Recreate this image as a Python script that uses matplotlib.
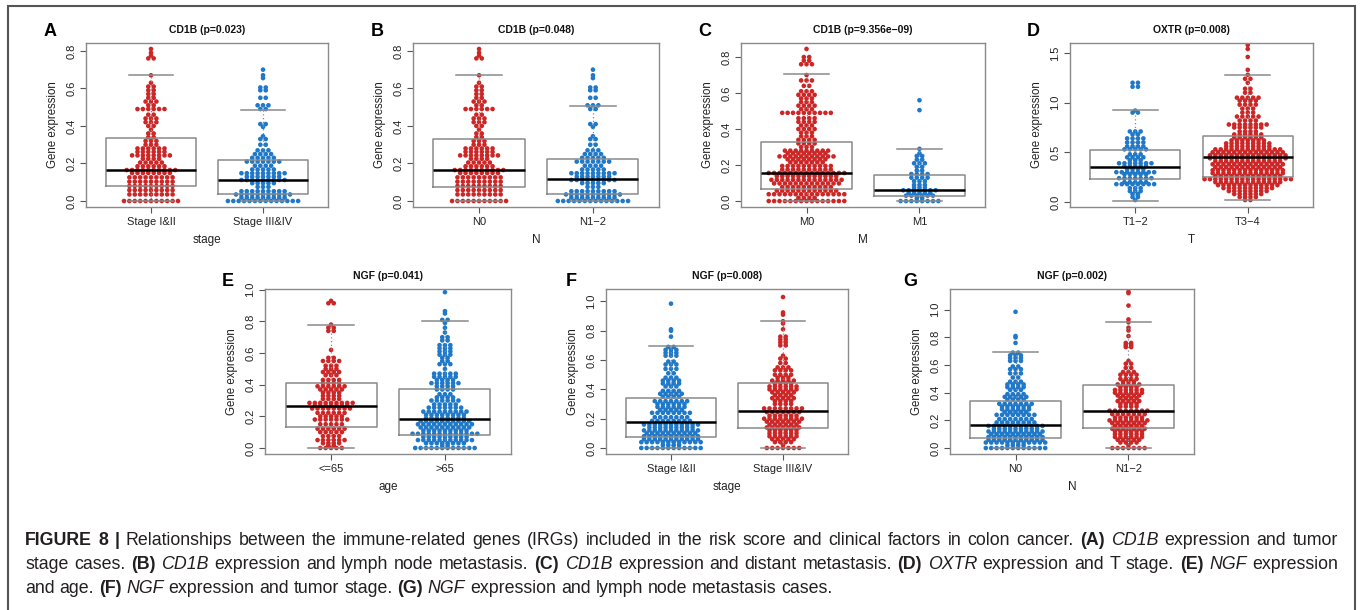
import numpy as np
import matplotlib
matplotlib.use("Agg")
import matplotlib.pyplot as plt
from matplotlib.patches import Rectangle

plt.rcParams['font.family'] = ['Liberation Sans', 'DejaVu Sans']

W, H = 1360, 610
RED = '#CD2626'
BLUE = '#1F78C8'
GRAY = '#8a8a8a'

# ---------------- data (rows of the beeswarm: level, number of points) -------------
A1_LEVELS = [0.000, 0.035, 0.058, 0.080, 0.103, 0.126, 0.149, 0.165, 0.185, 0.205, 0.225, 0.243, 0.262,
             0.280, 0.300, 0.320, 0.340, 0.360, 0.380, 0.400, 0.420, 0.440, 0.460, 0.490, 0.510, 0.530,
             0.550, 0.570, 0.590, 0.610, 0.630, 0.670, 0.760, 0.775, 0.790, 0.810]
A1_COUNTS = [11, 9, 9, 9, 9, 9, 8, 10, 6, 5, 4, 8, 6, 6, 3, 3, 2, 2, 1, 2, 3, 3, 2, 6, 2, 3, 2, 2, 2, 2,
             1, 1, 2, 1, 1, 1]
A2_LEVELS = [0.000, 0.018, 0.035, 0.052, 0.075, 0.095, 0.112, 0.130, 0.148, 0.168, 0.188, 0.210, 0.230,
             0.250, 0.270, 0.300, 0.330, 0.345, 0.395, 0.410, 0.490, 0.510, 0.550, 0.590, 0.605, 0.655,
             0.670, 0.700]
A2_COUNTS = [14, 9, 11, 9, 3, 5, 9, 7, 9, 5, 4, 7, 5, 4, 3, 2, 2, 1, 1, 2, 2, 3, 2, 2, 2, 1, 1, 1]
B1_LEVELS, B1_COUNTS = A1_LEVELS, A1_COUNTS
B2_LEVELS, B2_COUNTS = A2_LEVELS, A2_COUNTS

C1_LEVELS = [0.000, 0.018, 0.038, 0.058, 0.078, 0.098, 0.118, 0.138, 0.156, 0.175, 0.195, 0.215, 0.232,
             0.248, 0.265, 0.280, 0.300, 0.320, 0.340, 0.360, 0.380, 0.400, 0.420, 0.440, 0.460, 0.490,
             0.510, 0.530, 0.550, 0.570, 0.590, 0.610, 0.640, 0.670, 0.700, 0.760, 0.780, 0.800, 0.845]
C1_COUNTS = [15, 4, 15, 12, 10, 13, 14, 12, 15, 10, 10, 7, 8, 11, 8, 9, 3, 4, 4, 3, 3, 4, 3, 4, 4, 10,
             3, 4, 3, 3, 4, 3, 2, 3, 1, 3, 2, 2, 1]
C2_LEVELS = [0.000, 0.015, 0.030, 0.045, 0.060, 0.075, 0.090, 0.110, 0.130, 0.150, 0.170, 0.190, 0.210,
             0.230, 0.250, 0.265, 0.290, 0.505, 0.560]
C2_COUNTS = [8, 2, 6, 5, 7, 3, 3, 3, 4, 4, 2, 2, 3, 2, 2, 1, 1, 1, 1]

D1_LEVELS = [0.02, 0.05, 0.08, 0.11, 0.14, 0.18, 0.20, 0.24, 0.28, 0.30, 0.33, 0.36, 0.39, 0.42, 0.45,
             0.48, 0.53, 0.56, 0.60, 0.64, 0.68, 0.71, 0.90, 0.92, 1.16, 1.20]
D1_COUNTS = [1, 2, 2, 3, 3, 8, 5, 7, 5, 8, 4, 5, 7, 3, 4, 3, 5, 4, 4, 4, 2, 3, 2, 1, 2, 2]
D2_LEVELS = [0.02, 0.05, 0.08, 0.11, 0.14, 0.17, 0.20, 0.23, 0.26, 0.29, 0.32, 0.35, 0.38, 0.41, 0.44,
             0.47, 0.50, 0.53, 0.56, 0.59, 0.62, 0.65, 0.68, 0.71, 0.75, 0.78, 0.82, 0.86, 0.90, 0.94,
             0.98, 1.02, 1.05, 1.10, 1.14, 1.20, 1.24, 1.28, 1.33, 1.46, 1.54, 1.58]
D2_COUNTS = [2, 4, 6, 8, 10, 12, 13, 17, 13, 14, 14, 13, 14, 13, 15, 15, 14, 13, 9, 9, 7, 6, 6, 4, 6, 8,
             4, 5, 3, 3, 4, 4, 5, 2, 2, 1, 2, 1, 1, 1, 1, 1]

E1_LEVELS = [0.000, 0.015, 0.030, 0.050, 0.075, 0.100, 0.122, 0.150, 0.180, 0.200, 0.222, 0.250, 0.268,
             0.285, 0.310, 0.330, 0.350, 0.370, 0.390, 0.410, 0.430, 0.460, 0.480, 0.500, 0.520, 0.550,
             0.570, 0.620, 0.740, 0.760, 0.780, 0.915, 0.930]
E1_COUNTS = [5, 2, 4, 6, 4, 5, 6, 5, 7, 5, 6, 8, 7, 9, 4, 4, 4, 5, 6, 4, 4, 3, 4, 3, 3, 4, 2, 1, 2, 2,
             1, 2, 1]
E2_LEVELS = [0.000, 0.015, 0.030, 0.050, 0.070, 0.090, 0.110, 0.130, 0.150, 0.170, 0.190, 0.210, 0.230,
             0.255, 0.275, 0.300, 0.320, 0.340, 0.370, 0.390, 0.410, 0.430, 0.450, 0.470, 0.500, 0.530,
             0.550, 0.570, 0.590, 0.610, 0.630, 0.650, 0.680, 0.700, 0.730, 0.760, 0.790, 0.810, 0.850,
             0.865, 0.985]
E2_COUNTS = [12, 2, 8, 11, 9, 13, 9, 10, 11, 10, 8, 8, 9, 7, 5, 6, 4, 3, 4, 4, 6, 4, 5, 5, 1, 3, 2, 2,
             3, 3, 3, 3, 2, 2, 1, 1, 1, 2, 1, 1, 1]

F1_LEVELS = [0.000, 0.020, 0.040, 0.060, 0.080, 0.100, 0.120, 0.140, 0.160, 0.185, 0.210, 0.240, 0.260,
             0.280, 0.300, 0.320, 0.350, 0.370, 0.390, 0.420, 0.440, 0.460, 0.480, 0.510, 0.540, 0.570,
             0.590, 0.630, 0.650, 0.670, 0.690, 0.760, 0.800, 0.810, 0.985]
F1_COUNTS = [12, 4, 12, 11, 11, 10, 11, 9, 11, 8, 7, 8, 5, 6, 6, 7, 4, 5, 4, 3, 4, 4, 3, 2, 3, 3, 2, 3,
             3, 3, 2, 1, 1, 1, 1]
F2_LEVELS = [0.000, 0.020, 0.040, 0.060, 0.080, 0.100, 0.120, 0.140, 0.160, 0.180, 0.200, 0.220, 0.245,
             0.270, 0.300, 0.320, 0.340, 0.360, 0.380, 0.400, 0.420, 0.440, 0.460, 0.480, 0.500, 0.530,
             0.550, 0.580, 0.610, 0.630, 0.700, 0.720, 0.740, 0.760, 0.810, 0.850, 0.865, 0.910, 0.925,
             1.030]
F2_COUNTS = [7, 1, 4, 5, 6, 6, 6, 7, 6, 7, 8, 6, 7, 8, 4, 4, 5, 4, 5, 6, 6, 4, 5, 3, 4, 4, 3, 2, 2, 1,
             2, 2, 2, 2, 1, 1, 1, 1, 1, 1]
G1_LEVELS, G1_COUNTS = F1_LEVELS, F1_COUNTS
G2_LEVELS = [0.000, 0.020, 0.040, 0.060, 0.080, 0.100, 0.120, 0.140, 0.160, 0.180, 0.200, 0.220, 0.245,
             0.270, 0.300, 0.320, 0.340, 0.360, 0.380, 0.400, 0.420, 0.440, 0.460, 0.480, 0.500, 0.530,
             0.550, 0.580, 0.610, 0.630, 0.730, 0.745, 0.760, 0.810, 0.850, 0.870, 0.910, 0.930, 1.030,
             1.120, 1.130]
G2_COUNTS = [7, 1, 4, 5, 6, 6, 6, 7, 6, 7, 8, 6, 7, 8, 4, 4, 5, 4, 5, 6, 6, 4, 5, 3, 4, 4, 3, 2, 2, 1,
             2, 2, 2, 1, 1, 1, 1, 1, 1, 1, 1]

# box statistics: (whisker low, q1, median, q3, whisker high)
A_BOX = [(0.0, 0.080, 0.165, 0.336, 0.672), (0.0, 0.035, 0.112, 0.221, 0.483)]
B_BOX = [(0.0, 0.073, 0.165, 0.333, 0.672), (0.0, 0.039, 0.115, 0.225, 0.504)]
C_BOX = [(0.0, 0.065, 0.156, 0.330, 0.707), (0.0, 0.030, 0.059, 0.145, 0.291)]
D_BOX = [(0.010, 0.229, 0.353, 0.528, 0.921), (0.020, 0.256, 0.451, 0.669, 1.281)]
E_BOX = [(0.0, 0.133, 0.264, 0.412, 0.780), (0.0, 0.085, 0.182, 0.374, 0.801)]
F_BOX = [(0.0, 0.075, 0.176, 0.342, 0.694), (0.0, 0.137, 0.253, 0.441, 0.865)]
G_BOX = [(0.0, 0.072, 0.166, 0.337, 0.695), (0.0, 0.144, 0.267, 0.454, 0.911)]

TITLES = ["CD1B (p=0.023)", "CD1B (p=0.048)", "CD1B (p=9.356e\u221209)", "OXTR (p=0.008)",
          "NGF (p=0.041)", "NGF (p=0.008)", "NGF (p=0.002)"]
XLABELS = ["stage", "N", "M", "T", "age", "stage", "N"]
CATS = [["Stage I&II", "Stage III&IV"], ["N0", "N1\u22122"], ["M0", "M1"], ["T1\u22122", "T3\u22124"],
        ["<=65", ">65"], ["Stage I&II", "Stage III&IV"], ["N0", "N1\u22122"]]
LETTERS = ["A", "B", "C", "D", "E", "F", "G"]

# ---------------- layout (pixels) ----------------
BOXES = [(86, 328, 43, 207), (413, 659, 43, 207), (741, 985, 43, 207), (1070, 1313, 43, 207),
         (265, 511, 289, 454), (606, 848, 289, 454), (950, 1194, 289, 454)]
LETTER_POS = [(50, 32), (377, 32), (705, 32), (1033, 32), (228, 281), (571, 281), (910, 281)]
YLIMS = [(-0.032, 0.842), (-0.032, 0.842), (-0.033, 0.878), (-0.05, 1.60), (-0.038, 1.005),
         (-0.041, 1.085), (-0.043, 1.15)]
YTICKS = [[0, .2, .4, .6, .8]] * 3 + [[0, .5, 1.0, 1.5]] + [[0, .2, .4, .6, .8, 1.0]] * 3
YTICKLABELS = [["0.0", "0.2", "0.4", "0.6", "0.8"]] * 3 + [["0.0", "0.5", "1.0", "1.5"]] + \
              [["0.0", "0.2", "0.4", "0.6", "0.8", "1.0"]] * 3
GROUPS = [[(A1_LEVELS, A1_COUNTS), (A2_LEVELS, A2_COUNTS)],
          [(B1_LEVELS, B1_COUNTS), (B2_LEVELS, B2_COUNTS)],
          [(C1_LEVELS, C1_COUNTS), (C2_LEVELS, C2_COUNTS)],
          [(D1_LEVELS, D1_COUNTS), (D2_LEVELS, D2_COUNTS)],
          [(E1_LEVELS, E1_COUNTS), (E2_LEVELS, E2_COUNTS)],
          [(F1_LEVELS, F1_COUNTS), (F2_LEVELS, F2_COUNTS)],
          [(G1_LEVELS, G1_COUNTS), (G2_LEVELS, G2_COUNTS)]]
BOXSTATS = [A_BOX, B_BOX, C_BOX, D_BOX, E_BOX, F_BOX, G_BOX]
COLORS = [(RED, BLUE), (RED, BLUE), (RED, BLUE), (BLUE, RED), (RED, BLUE), (BLUE, RED), (BLUE, RED)]

fig = plt.figure(figsize=(W / 100, H / 100), dpi=100)

DOT_PX = 5.4
for i in range(7):
    l, r, t, b = BOXES[i]
    ax = fig.add_axes([l / W, 1 - b / H, (r - l) / W, (b - t) / H])
    xlo, xhi = 0.42, 2.58
    ax.set_xlim(xlo, xhi)
    ax.set_ylim(*YLIMS[i])
    dx = DOT_PX / ((r - l) / (xhi - xlo))
    for g, (levels, counts) in enumerate(GROUPS[i]):
        xs, ys = [], []
        for yv, n in zip(levels, counts):
            offs = (np.arange(n) - (n - 1) / 2.0) * dx
            xs.extend(list(g + 1 + offs))
            ys.extend([yv] * n)
        ax.scatter(xs, ys, s=11, color=COLORS[i][g], edgecolors='none', zorder=2, clip_on=True)
    stats = []
    for (wl, q1, med, q3, wh) in BOXSTATS[i]:
        stats.append(dict(whislo=wl, q1=q1, med=med, q3=q3, whishi=wh, fliers=[]))
    ax.bxp(stats, positions=[1, 2], widths=0.8, capwidths=0.4, showfliers=False,
           boxprops=dict(color=GRAY, lw=1.1), medianprops=dict(color='black', lw=1.8),
           whiskerprops=dict(color=GRAY, lw=0.9, ls=(0, (1, 2))), capprops=dict(color=GRAY, lw=1.1),
           zorder=3)
    ax.set_xlim(xlo, xhi)
    ax.set_xticks([1, 2])
    ax.set_xticklabels(CATS[i])
    ax.set_yticks(YTICKS[i])
    ax.set_yticklabels(YTICKLABELS[i], rotation=90, va='center')
    ax.tick_params(length=4, width=0.8, color='#555555', labelsize=8, labelcolor='#222222', pad=3)
    for sp in ax.spines.values():
        sp.set_color(GRAY)
        sp.set_linewidth(1.0)
    cx = (l + r) / 2
    fig.text(cx / W, 1 - (t - 13) / H, TITLES[i], ha='center', va='center', fontsize=7.5,
             fontweight='bold', color='#111111')
    fig.text(cx / W, 1 - (b + 33) / H, XLABELS[i], ha='center', va='center', fontsize=8.5,
             color='#222222')
    fig.text((l - 33) / W, 1 - ((t + b) / 2) / H, "Gene expression", ha='center', va='center',
             rotation=90, fontsize=8.3, color='#222222')
    lx, ly = LETTER_POS[i]
    fig.text(lx / W, 1 - ly / H, LETTERS[i], ha='center', va='center', fontsize=13,
             fontweight='bold', color='black')

# outer frame
fig.patches.append(Rectangle((8 / W, -0.05), (1355 - 8) / W, 1.05 - 6 / H, transform=fig.transFigure,
                             fill=False, ec='#555555', lw=1.5))

# ---------------- caption ----------------
CAPTION = [
    [('b', 'FIGURE 8 |'),
     ('n', 'Relationships between the immune-related genes (IRGs) included in the risk score and clinical factors in colon cancer.'),
     ('b', '(A)'), ('i', 'CD1B'), ('n', 'expression and tumor')],
    [('n', 'stage cases.'), ('b', '(B)'), ('i', 'CD1B'), ('n', 'expression and lymph node metastasis.'),
     ('b', '(C)'), ('i', 'CD1B'), ('n', 'expression and distant metastasis.'), ('b', '(D)'), ('i', 'OXTR'),
     ('n', 'expression and T stage.'), ('b', '(E)'), ('i', 'NGF'), ('n', 'expression')],
    [('n', 'and age.'), ('b', '(F)'), ('i', 'NGF'), ('n', 'expression and tumor stage.'), ('b', '(G)'),
     ('i', 'NGF'), ('n', 'expression and lymph node metastasis cases.')],
]
BASELINES = [545, 569, 593]
CAP_L, CAP_R = 25, 1338

fig.canvas.draw()
renderer = fig.canvas.get_renderer()


def style_kw(st, fs):
    kw = dict(fontsize=fs, color='#231f20')
    if st == 'b':
        kw['fontweight'] = 'bold'
    elif st == 'i':
        kw['fontstyle'] = 'italic'
    return kw


def measure(txt, st, fs):
    t = fig.text(0, 0, txt, **style_kw(st, fs))
    w = t.get_window_extent(renderer).width
    t.remove()
    return w


def line_words(line):
    return [(w, st) for st, txt in line for w in txt.split()]


fs0 = 10.0
sp0 = measure('a a', 'n', fs0) - measure('aa', 'n', fs0)
nat = []
for line in CAPTION[:2]:
    ws = line_words(line)
    nat.append(sum(measure(w, st, fs0) for w, st in ws) + sp0 * (len(ws) - 1))
fs = fs0 * (CAP_R - CAP_L) * 0.99 / max(nat)
space = measure('a a', 'n', fs) - measure('aa', 'n', fs)

for li, line in enumerate(CAPTION):
    ws = line_words(line)
    widths = [measure(w, st, fs) for w, st in ws]
    if li < 2:
        gap = (CAP_R - CAP_L - sum(widths)) / (len(ws) - 1)
    else:
        gap = space
    x = CAP_L
    for (w, st), wd in zip(ws, widths):
        fig.text(x / W, 1 - BASELINES[li] / H, w, ha='left', va='baseline', **style_kw(st, fs))
        x += wd + gap

fig.savefig('out.png', dpi=100)
